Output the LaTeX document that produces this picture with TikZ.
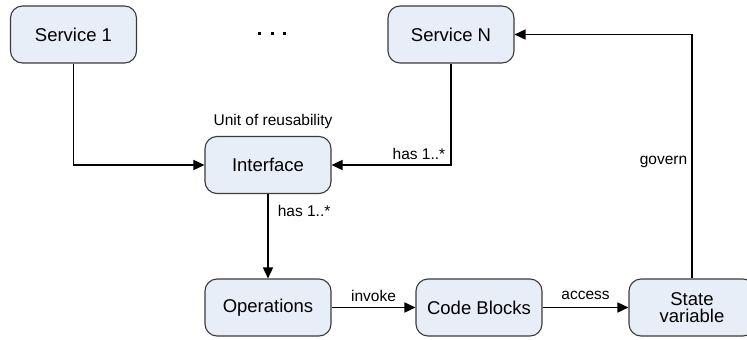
\documentclass[tikz,border=0pt]{standalone}
\usepackage{fontspec}
\setmainfont{Liberation Sans}
\usetikzlibrary{arrows.meta}
\definecolor{boxfill}{HTML}{E8EEF8}
\definecolor{boxline}{HTML}{3A3A3A}
\begin{document}
\begin{tikzpicture}[x=1pt,y=-1pt,
  box/.style={draw=boxline,line width=1.1pt,fill=boxfill,rounded corners=12pt,
    minimum width=126pt,minimum height=57pt,inner sep=0pt,align=center,
    font=\fontsize{18.5}{19}\selectfont},
  conn/.style={line width=1.6pt,black},
  arr/.style={conn,-{Triangle[length=11pt,width=10pt]}},
  lbl/.style={font=\fontsize{15.5}{16}\selectfont,inner sep=0pt}]
\useasboundingbox (0,0) rectangle (747,340);
\node[box] (s1) at (73.5,34.5) {Service 1};
\node[box] (sn) at (451,34.5) {Service N};
\node[box] (if) at (268,165) {Interface};
\node[box] (op) at (268,307.5) {Operations};
\node[box] (cb) at (479,307.5) {Code Blocks};
\node[box] (sv) at (692,307.5) {State\\[-2pt]variable};
\foreach \x/\n in {259/d1,272/d2,284/d3}
  \node[fill=black,minimum size=3pt,inner sep=0pt] (\n) at (\x,33) {};
\node[lbl] (uor) at (273,121) {Unit of reusability};
\draw[arr] (s1.south) |- (if.west);
\draw[arr] (sn.south) |- (if.east) node[lbl,pos=0.5,anchor=south east,xshift=-5pt,yshift=5pt] (h1) {has 1..*};
\draw[arr] (if.south) -- (op.north) node[lbl,pos=0.2,anchor=west,xshift=9pt] (h2) {has 1..*};
\draw[arr] (op.east) -- (cb.west) node[lbl,midway,above,yshift=5pt] (inv) {invoke};
\draw[arr] (cb.east) -- (sv.west) node[lbl,midway,above,yshift=7pt] (acc) {access};
\draw[arr] (sv.north) |- (sn.east) node[lbl,pos=0.239,anchor=east,xshift=-4pt] (gov) {govern};
\end{tikzpicture}
\end{document}
